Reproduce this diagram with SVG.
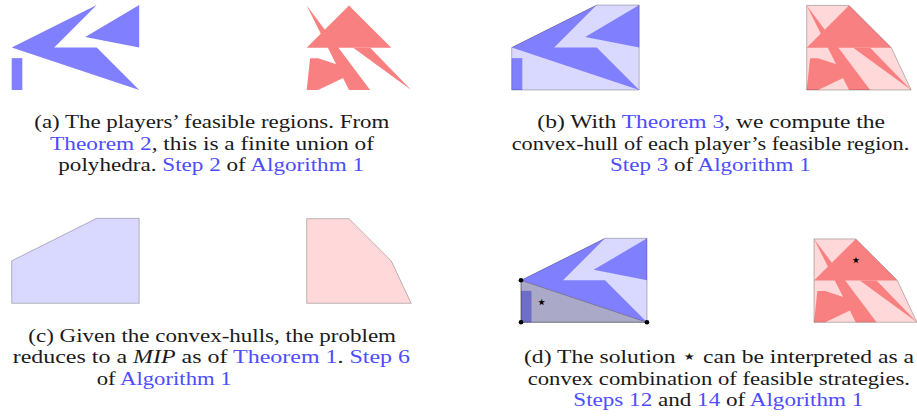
<svg xmlns="http://www.w3.org/2000/svg" width="917" height="416" viewBox="0 0 917 416">
<style>
.bs{fill:#8080ff}
.rs{fill:#f98080}
.bh{fill:#d9d9ff}
.rh{fill:#ffd9d9}
.ol{fill:none;stroke:#000;stroke-opacity:0.33;stroke-width:0.8;stroke-linejoin:round}
.cap{font-family:"Liberation Serif","Times New Roman",serif;font-size:19px;fill:#1a1a1a}
.lk{fill:#4d4dff}
.star{font-family:"DejaVu Sans",sans-serif;font-size:18px;fill:#000}
</style>
<defs>
<g id="blue">
<polygon points="0,1 2,2 1,1 2,1 3,0"/>
<polygon points="1.73,1.25 3,2 3,1"/>
<polygon points="0,0 0.25,0 0.25,0.75 0,0.75"/>
</g>
<polygon id="bhull" vector-effect="non-scaling-stroke" points="0,0 0,1 2,2 3,2 3,0"/>
<g id="red">
<polygon points="0,1 1,2 2,1"/>
<polygon points="0,2 1,0 1.5,0"/>
<polygon points="1.1,1 1.5,1 2.47,0"/>
<polygon points="0.08,0.75 0.27,0.75 0.72,0.6 0.9,0.3 0.27,0 0,0"/>
</g>
<polygon id="rhull" vector-effect="non-scaling-stroke" points="0,0 0,2 1,2 2,1 2.47,0"/>
</defs>

<g id="panel-a">
<g id="a-blue" transform="translate(11.7,90) scale(42.5,-42.5)">
<use href="#blue" class="bs"/>
</g>
<g id="a-red" transform="translate(306.7,90) scale(42.3,-42.3)">
<use href="#red" class="rs"/>
</g>
</g>

<g id="panel-b">
<g id="b-blue" transform="translate(511.7,90) scale(42.5,-42.5)">
<use href="#bhull" class="bh"/>
<use href="#blue" class="bs"/>
<use href="#bhull" class="ol"/>
</g>
<g id="b-red" transform="translate(806.7,90) scale(42.3,-42.3)">
<use href="#rhull" class="rh"/>
<use href="#red" class="rs"/>
<use href="#rhull" class="ol"/>
</g>
</g>

<g id="panel-c">
<g id="c-blue" transform="translate(11.7,303.3) scale(42.5,-42.5)">
<use href="#bhull" class="bh"/>
<use href="#bhull" class="ol"/>
</g>
<g id="c-red" transform="translate(306.7,303.3) scale(42.3,-42.3)">
<use href="#rhull" class="rh"/>
<use href="#rhull" class="ol"/>
</g>
</g>

<g id="panel-d">
<g id="d-blue" transform="translate(521,322.3) scale(42,-42)">
<use href="#bhull" class="bh"/>
<use href="#blue" class="bs"/>
<use href="#bhull" class="ol"/>
<polygon points="0,0 0,1 3,0" fill="#484853" fill-opacity="0.32" stroke="#333" stroke-opacity="0.45" stroke-width="0.8" vector-effect="non-scaling-stroke"/>
<circle cx="0" cy="1" r="0.055" fill="#000"/>
<circle cx="0" cy="0" r="0.055" fill="#000"/>
<circle cx="3" cy="0" r="0.055" fill="#000"/>
</g>
<text class="star" x="541.7" y="307.5" text-anchor="middle">⋆</text>
<g id="d-red" transform="translate(814,322.3) scale(41.7,-41.7)">
<use href="#rhull" class="rh"/>
<use href="#red" class="rs"/>
<use href="#rhull" class="ol"/>
</g>
<text class="star" x="856" y="266" text-anchor="middle">⋆</text>
</g>

<g id="captions">
<text class="cap" x="34.3" y="128.3" textLength="355" lengthAdjust="spacingAndGlyphs">(a) The players’ feasible regions. From</text>
<text class="cap" x="50" y="149.6" textLength="324" lengthAdjust="spacingAndGlyphs"><tspan class="lk">Theorem 2</tspan>, this is a finite union of</text>
<text class="cap" x="58.3" y="171" textLength="305.7" lengthAdjust="spacingAndGlyphs">polyhedra. <tspan class="lk">Step 2</tspan> of <tspan class="lk">Algorithm 1</tspan></text>

<text class="cap" x="537.3" y="128" textLength="347.7" lengthAdjust="spacingAndGlyphs">(b) With <tspan class="lk">Theorem 3</tspan>, we compute the</text>
<text class="cap" x="511.7" y="149.5" textLength="397.6" lengthAdjust="spacingAndGlyphs">convex-hull of each player’s feasible region.</text>
<text class="cap" x="610" y="171" textLength="200.7" lengthAdjust="spacingAndGlyphs"><tspan class="lk">Step 3</tspan> of <tspan class="lk">Algorithm 1</tspan></text>

<text class="cap" x="28.3" y="342" textLength="367.7" lengthAdjust="spacingAndGlyphs">(c) Given the convex-hulls, the problem</text>
<text class="cap" x="12.7" y="363.3" textLength="397.3" lengthAdjust="spacingAndGlyphs">reduces to a <tspan font-style="italic">MIP</tspan> as of <tspan class="lk">Theorem 1</tspan>. <tspan class="lk">Step 6</tspan></text>
<text class="cap" x="96.7" y="384.6" textLength="135" lengthAdjust="spacingAndGlyphs">of <tspan class="lk">Algorithm 1</tspan></text>

<text class="cap" x="524" y="363.3" textLength="390" lengthAdjust="spacingAndGlyphs">(d) The solution <tspan font-family="DejaVu Sans, sans-serif" font-size="20">⋆</tspan> can be interpreted as a</text>
<text class="cap" x="527.7" y="384.6" textLength="382.3" lengthAdjust="spacingAndGlyphs">convex combination of feasible strategies.</text>
<text class="cap" x="573.3" y="405.9" textLength="290" lengthAdjust="spacingAndGlyphs"><tspan class="lk">Steps 12</tspan> and <tspan class="lk">14</tspan> of <tspan class="lk">Algorithm 1</tspan></text>
</g>
</svg>
